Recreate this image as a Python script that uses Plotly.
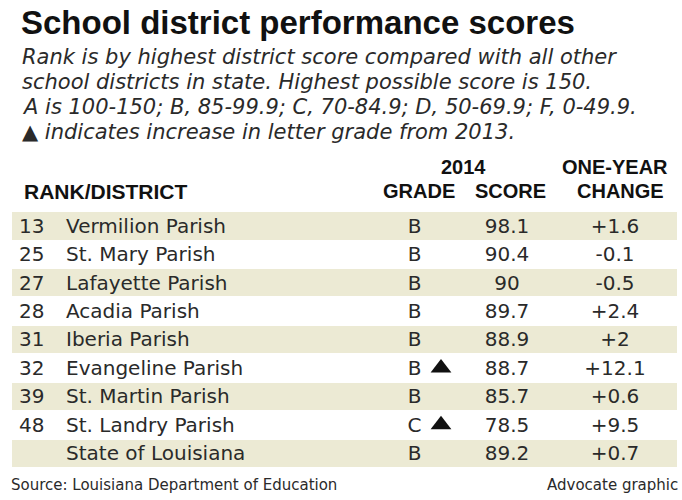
import plotly.graph_objects as go

# ---- data ----
ranks = ["13", "25", "27", "28", "31", "32", "39", "48", ""]
districts = ["Vermilion Parish", "St. Mary Parish", "Lafayette Parish", "Acadia Parish",
             "Iberia Parish", "Evangeline Parish", "St. Martin Parish", "St. Landry Parish",
             "State of Louisiana"]
grades = ["B", "B", "B", "B", "B", "B", "B", "C", "B"]
grade_up = [False, False, False, False, False, True, False, True, False]
scores = [98.1, 90.4, 90, 89.7, 88.9, 88.7, 85.7, 78.5, 89.2]
changes = [1.6, -0.1, -0.5, 2.4, 2, 12.1, 0.6, 9.5, 0.7]

title = "School district performance scores"
subtitle_lines = [
    "Rank is by highest district score compared with all other",
    "school districts in state. Highest possible score is 150.",
    "A is 100-150; B, 85-99.9; C, 70-84.9; D, 50-69.9; F, 0-49.9.",
    "\u25B2 indicates increase in letter grade from 2013.",
]
source = "Source: Louisiana Department of Education"
credit = "Advocate graphic"

# ---- layout constants ----
W, H = 682, 500
ROW0, PITCH = 226, 28.4
TXT = "#2a2a2a"
BAND = "#ECEAD4"
BODY_FONT = "DejaVu Sans"
n = len(districts)
rows = list(range(n))

def py(px):  # paper y from pixel
    return 1 - px / H

fig = go.Figure()

# shaded bands on alternate rows
band_rows = [i for i in rows if i % 2 == 0]
fig.add_trace(go.Bar(
    orientation="h", y=band_rows, x=[665] * len(band_rows), base=12,
    width=0.96, marker=dict(color=BAND, line=dict(width=0)),
    hoverinfo="skip", showlegend=False))

body = dict(family=BODY_FONT, size=20, color=TXT)
text_rows = [r + 0.06 for r in rows]

def text_col(x, labels, pos):
    fig.add_trace(go.Scatter(
        x=[x] * len(labels), y=text_rows, mode="text", text=labels,
        textposition=pos, textfont=body, hoverinfo="skip", showlegend=False))

text_col(19, ranks, "middle right")
text_col(66, districts, "middle right")
text_col(414.5, grades, "middle center")
text_col(507, [f"{v:g}" for v in scores], "middle center")
text_col(615, [f"{v:+g}" for v in changes], "middle center")

# grade-increase triangles
up_rows = [i for i in rows if grade_up[i]]
fig.add_trace(go.Scatter(
    x=[441] * len(up_rows), y=up_rows, mode="markers",
    marker=dict(symbol="triangle-up", size=18, color="#111111", line=dict(width=0)),
    hoverinfo="skip", showlegend=False))

ann = []
ann.append(dict(text=title, x=19, y=py(22), xanchor="left", yanchor="middle",
                font=dict(family="Liberation Sans", size=33, color="#111111", weight="bold")))
for k, line in enumerate(subtitle_lines):
    ann.append(dict(text=line, x=20, y=py(57 + 25 * k), xanchor="left", yanchor="middle",
                    font=dict(family="DejaVu Sans", size=21, color=TXT, style="italic")))
hdr = dict(family="Liberation Sans", size=20, color="#111111", weight="bold")
ann.append(dict(text="RANK/DISTRICT", x=22, y=py(191), xanchor="left", yanchor="middle",
                font=dict(hdr, size=21)))
ann.append(dict(text="2014", x=463, y=py(167), xanchor="center", yanchor="middle", font=hdr))
ann.append(dict(text="GRADE", x=419, y=py(191), xanchor="center", yanchor="middle", font=hdr))
ann.append(dict(text="SCORE", x=510, y=py(191), xanchor="center", yanchor="middle", font=hdr))
ann.append(dict(text="ONE-YEAR", x=615, y=py(167), xanchor="center", yanchor="middle", font=hdr))
ann.append(dict(text="CHANGE", x=620, y=py(191), xanchor="center", yanchor="middle", font=hdr))
ann.append(dict(text=source, x=9, y=py(485), xanchor="left", yanchor="middle",
                font=dict(family="DejaVu Sans", size=15, color=TXT)))
ann.append(dict(text=credit, x=680, y=py(485), xanchor="right", yanchor="middle",
                font=dict(family="DejaVu Sans", size=15, color=TXT)))
for a in ann:
    a.update(xref="x", yref="paper", showarrow=False)

fig.update_layout(
    width=W, height=H, margin=dict(l=0, r=0, t=0, b=0),
    paper_bgcolor="white", plot_bgcolor="white",
    xaxis=dict(range=[0, W], visible=False, fixedrange=True),
    yaxis=dict(range=[(H - ROW0) / PITCH, -ROW0 / PITCH], visible=False, fixedrange=True),
    annotations=ann, bargap=0, showlegend=False,
)

fig.write_html("out.html", config={"displayModeBar": False},
               post_script="document.body.style.margin='0';")
